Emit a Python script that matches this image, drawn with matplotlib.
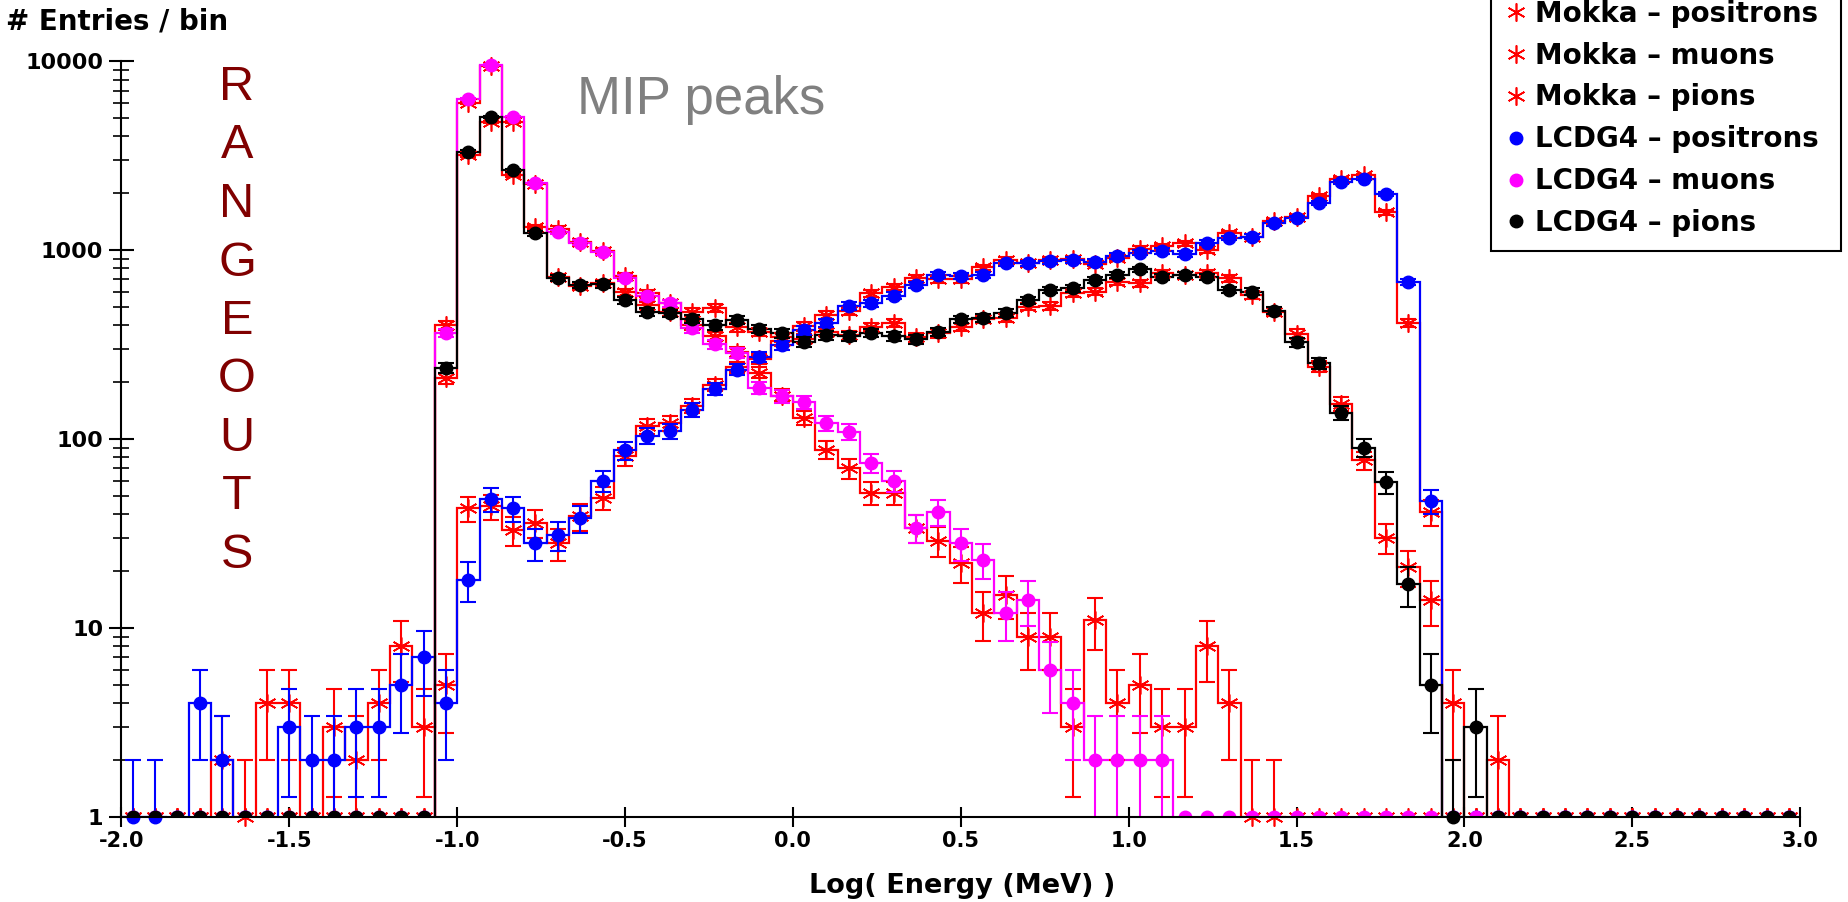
import numpy as np
import matplotlib
matplotlib.use("Agg")
from matplotlib import pyplot as plt
from matplotlib.lines import Line2D
from matplotlib.ticker import FixedLocator, LogLocator, NullFormatter, FormatStrFormatter

plt.rcParams['axes.unicode_minus'] = False

# 75 bins in log10(E / MeV) between -2 and 3
x_min, x_max, n_bins = -2.0, 3.0, 75

mokka_pos = [0, 0, 0, 0, 2, 1, 4, 4, 0, 3, 2, 4, 8, 3, 5,
             43, 44, 33, 36, 28, 39, 49, 81, 117, 121,
             150, 193, 240, 265, 330, 395, 455, 475, 590, 640,
             710, 700, 700, 810, 887, 855, 887, 895, 850, 905,
             1020, 1050, 1090, 1000, 1230, 1180, 1420, 1500, 1930, 2390,
             2495, 1585, 414, 41,
             0, 0, 0, 0, 0, 0, 0, 0, 0, 0, 0, 0, 0, 0, 0, 0]
mokka_mu = [0, 0, 0, 0, 0, 0, 0, 0, 0, 0, 0, 0, 0, 0,
            400, 6000, 9400, 4800, 2250, 1300, 1110, 990, 730, 590, 525,
            400, 350, 290, 225, 170, 130, 88, 70, 52, 52,
            34, 29, 22, 12, 15, 9, 9, 3, 11, 4,
            5, 3, 3, 8, 4, 1, 1,
            0, 0, 0, 0, 0, 0, 0, 0, 0, 0, 0, 0, 0, 0, 0, 0, 0, 0, 0, 0, 0, 0, 0]
mokka_pi = [0, 0, 0, 0, 0, 0, 0, 0, 0, 0, 0, 0, 0, 0,
            210, 3190, 4790, 2500, 1330, 725, 645, 670, 600, 510, 470,
            470, 495, 390, 370, 345, 340, 370, 355, 393, 410,
            345, 363, 393, 430, 436, 502, 506, 590, 603, 680,
            667, 754, 738, 760, 709, 578, 472, 362, 242, 154,
            77, 30, 21, 14, 4, 0, 2,
            0, 0, 0, 0, 0, 0, 0, 0, 0, 0, 0, 0, 0]
lcdg_pos = [1, 1, 0, 4, 2, 0, 0, 3, 2, 2, 3, 3, 5, 7, 4,
            18, 48, 43, 28, 31, 38, 60, 87, 104, 110,
            143, 185, 233, 271, 313, 377, 410, 506, 523, 575,
            655, 737, 732, 740, 851, 851, 873, 888, 869, 931,
            969, 990, 955, 1095, 1160, 1180, 1385, 1485, 1778, 2298,
            2390, 1978, 678, 47,
            0, 0, 0, 0, 0, 0, 0, 0, 0, 0, 0, 0, 0, 0, 0, 0]
lcdg_mu = [0, 0, 0, 0, 0, 0, 0, 0, 0, 0, 0, 0, 0, 0,
           365, 6300, 9550, 5050, 2260, 1250, 1095, 975, 715, 570, 523,
           385, 318, 287, 186, 169, 157, 122, 109, 75, 60,
           34, 41, 28, 23, 12, 14, 6, 4, 2, 2,
           2, 2,
           0, 0, 0, 0, 0, 0, 0, 0, 0, 0, 0, 0, 0, 0, 0, 0, 0, 0, 0, 0, 0, 0, 0, 0, 0, 0, 0, 0]
lcdg_pi = [0, 0, 0, 0, 0, 0, 0, 0, 0, 0, 0, 0, 0, 0,
           238, 3320, 5080, 2655, 1228, 710, 653, 660, 542, 472, 463,
           432, 400, 426, 383, 363, 327, 355, 351, 365, 351,
           337, 370, 430, 436, 466, 545, 615, 628, 695, 738,
           791, 723, 738, 723, 615, 603, 479, 325, 252, 138,
           90, 59, 17, 5, 1, 3,
           0, 0, 0, 0, 0, 0, 0, 0, 0, 0, 0, 0, 0, 0]

labels = ['Mokka – positrons', 'Mokka – muons', 'Mokka – pions',
          'LCDG4 – positrons', 'LCDG4 – muons', 'LCDG4 – pions']

edges = np.linspace(x_min, x_max, n_bins + 1)
centers = 0.5 * (edges[:-1] + edges[1:])

fig = plt.figure(figsize=(18.48, 9.02), dpi=100)
ax = fig.add_axes([0.0657, 0.0945, 0.9084, 0.8375])
ax.set_yscale('log')

star = (6, 2, 0)


def draw(vals, color, marker, ms, mew):
    v = np.asarray(vals, dtype=float)
    nz = v > 0
    # empty bins drop out of the log axis
    ax.stairs(np.where(nz, v, 1e-3), edges, color=color, lw=1.6, baseline=None)
    err = np.sqrt(v[nz])
    lo = np.minimum(err, v[nz] * 0.999)
    ax.errorbar(centers[nz], v[nz], yerr=[lo, err], fmt='none', ecolor=color,
                elinewidth=1.5, capsize=6, capthick=1.5)
    ax.plot(centers[nz], v[nz], ls='none', marker=marker, ms=ms, color=color,
            mec=color, mew=mew, clip_on=False)
    ax.plot(centers[~nz], np.ones((~nz).sum()), ls='none', marker=marker, ms=ms,
            color=color, mec=color, mew=mew)


for vals in (mokka_pos, mokka_mu, mokka_pi):
    draw(vals, 'red', star, 13, 1.2)
draw(lcdg_pos, 'blue', 'o', 9, 1)
draw(lcdg_mu, 'magenta', 'o', 9, 1)
draw(lcdg_pi, 'black', 'o', 9, 1)

ax.set_xlim(x_min, x_max)
ax.set_ylim(1, 1e4)
for s in ('top', 'right'):
    ax.spines[s].set_visible(False)
for s in ('left', 'bottom'):
    ax.spines[s].set_linewidth(1.5)

ax.xaxis.set_major_locator(FixedLocator(np.arange(-2.0, 3.01, 0.5)))
ax.xaxis.set_major_formatter(FormatStrFormatter('%.1f'))
ax.yaxis.set_major_locator(FixedLocator([1, 10, 100, 1000, 10000]))
ax.yaxis.set_major_formatter(FormatStrFormatter('%d'))
ax.yaxis.set_minor_locator(LogLocator(base=10, subs=np.arange(2, 10)))
ax.yaxis.set_minor_formatter(NullFormatter())
ax.tick_params(axis='x', which='major', direction='inout', length=14, width=1.5,
               labelsize=15, pad=3)
ax.tick_params(axis='y', which='major', direction='inout', length=18, width=1.5,
               labelsize=16, pad=4)
ax.tick_params(axis='y', which='minor', direction='inout', length=12, width=1.2)
for t in ax.get_xticklabels() + ax.get_yticklabels():
    t.set_fontweight('bold')

fig.text(0.003, 1 - 21 / 902, '# Entries / bin', fontsize=20, fontweight='bold',
         ha='left', va='center')
fig.text(962 / 1848, 1 - 886 / 902, 'Log( Energy (MeV) )', fontsize=19.5,
         fontweight='bold', ha='center', va='center')

fig.text(577 / 1848, 1 - 114 / 902, 'MIP peaks', color='#808080', fontsize=38,
         family='Liberation Sans', va='baseline')
for k, ch in enumerate('RANGEOUTS'):
    fig.text(237 / 1848, 1 - (100 + k * 58.5) / 902, ch, color='#800000',
             fontsize=35, family='Liberation Sans', ha='center', va='baseline')

handles = [Line2D([], [], ls='none', marker=star, ms=13, mew=1.2, color='red')] * 3
handles += [Line2D([], [], ls='none', marker='o', ms=9, color=c)
            for c in ('blue', 'magenta', 'black')]
leg = fig.legend(handles, labels, loc='lower left',
                 bbox_to_anchor=(1491 / 1848, 1 - 251 / 902, 350 / 1848, 0.3),
                 mode='expand', prop={'weight': 'bold', 'size': 20},
                 frameon=True, fancybox=False, edgecolor='black', framealpha=1,
                 labelspacing=0.5, handlelength=0.8, handletextpad=0.3,
                 borderpad=0.5, borderaxespad=0)
leg.get_frame().set_linewidth(1.5)

fig.savefig('out.png', dpi=100)
